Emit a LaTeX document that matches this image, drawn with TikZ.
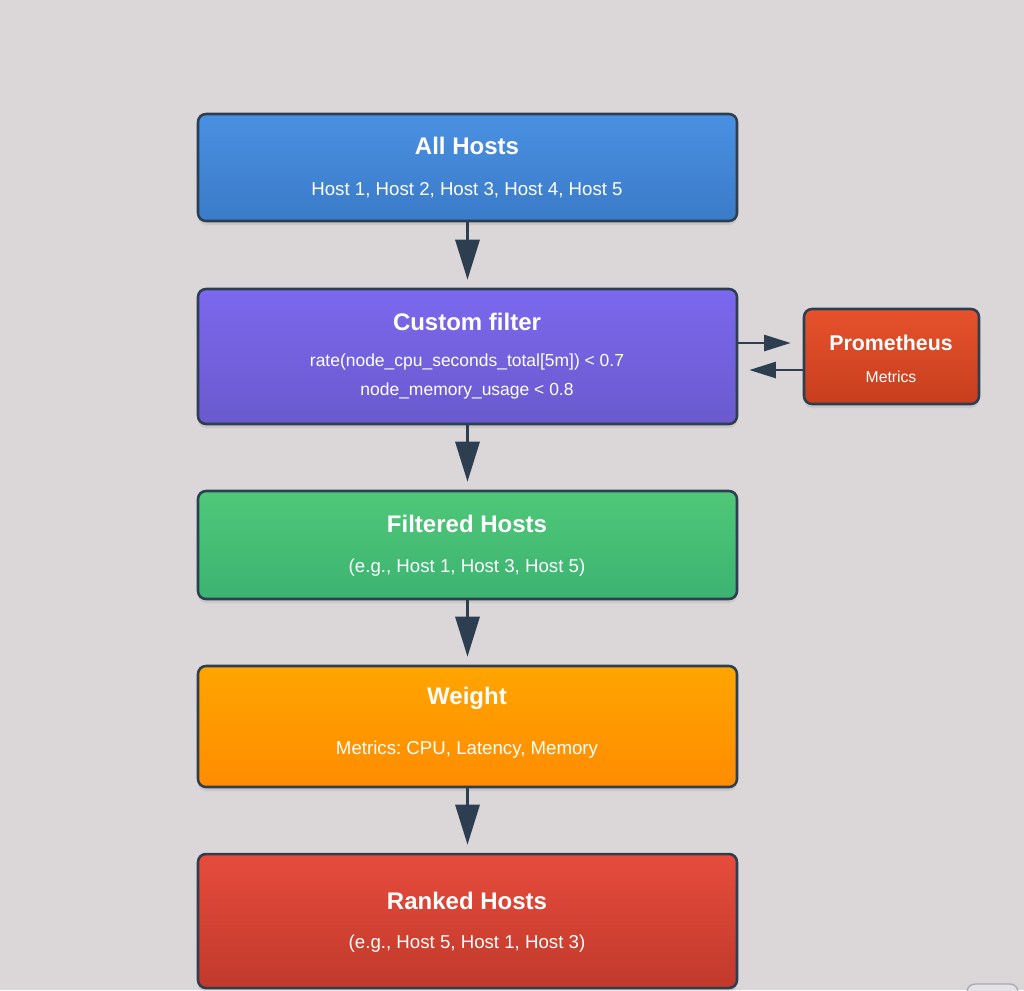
\documentclass[tikz,border=0pt]{standalone}
\usepackage{fontspec}
\setmainfont{Liberation Sans}
\usetikzlibrary{arrows.meta,shadows}
\frenchspacing
\definecolor{bg}{HTML}{DBD7D8}
\definecolor{edge}{HTML}{2C3E50}
\definecolor{blueT}{HTML}{4A90E2}
\definecolor{blueB}{HTML}{3A7BC8}
\definecolor{purT}{HTML}{7B68EE}
\definecolor{purB}{HTML}{6A5ACD}
\definecolor{grnT}{HTML}{50C878}
\definecolor{grnB}{HTML}{3CB371}
\definecolor{orT}{HTML}{FFA500}
\definecolor{orB}{HTML}{FF8C00}
\definecolor{redT}{HTML}{E74C3C}
\definecolor{redB}{HTML}{C0392B}
\definecolor{proT}{HTML}{E6522C}
\definecolor{proB}{HTML}{C73E1D}
\definecolor{tabline}{HTML}{A8A8B4}
\definecolor{tabfill}{HTML}{E4E2E4}
\begin{document}
\begin{tikzpicture}[x=0.75pt,y=-0.75pt,
  box/.style={draw=edge, line width=1.9pt, rounded corners=6pt, inner sep=0pt,
    drop shadow={opacity=0.18, shadow xshift=0pt, shadow yshift=-3pt}},
  mainbox/.style={box, minimum width=404.25pt},
  title/.style={text=white, font=\bfseries\fontsize{18}{21}\selectfont, inner sep=0pt},
  sub/.style={text=white, font=\fontsize{14}{17}\selectfont, inner sep=0pt},
  small/.style={text=white, font=\fontsize{13.1}{16}\selectfont, inner sep=0pt},
  arr/.style={draw=edge, line width=2.3pt, -{Triangle[length=30pt,width=18pt]}, shorten >=6pt},
  harr/.style={draw=edge, line width=2pt, -{Triangle[length=20pt,width=12pt]}}
]
\fill[bg] (0,0) rectangle (1024,990);
\useasboundingbox (0,0) rectangle (1024,990);

% boxes
\node[mainbox, minimum height=80.25pt, top color=blueT, bottom color=blueB] (a) at (467.5,167.5) {};
\node[mainbox, minimum height=101.25pt, top color=purT, bottom color=purB] (b) at (467.5,356.5) {};
\node[mainbox, minimum height=81pt, top color=grnT, bottom color=grnB] (c) at (467.5,545) {};
\node[mainbox, minimum height=90.75pt, top color=orT, bottom color=orB] (d) at (467.5,726.5) {};
\node[mainbox, minimum height=100.5pt, top color=redT, bottom color=redB] (e) at (467.5,921) {};
\node[box, minimum width=131.25pt, minimum height=71.25pt, top color=proT, bottom color=proB] (p) at (891.5,356.5) {};

% texts
\node[title] (aT) at (467,146) {All Hosts};
\node[sub] (aS) at (467,190) {Host 1, Host 2, Host 3, Host 4, Host 5};
\node[title] (bT) at (467,322) {Custom filter};
\node[small] (bS1) at (467,362) {rate(node\_cpu\_seconds\_total[5m]) < 0.7};
\node[small] (bS2) at (467,391) {node\_memory\_usage < 0.8};
\node[title] (cT) at (467,524) {Filtered Hosts};
\node[sub] (cS) at (467,568) {(e.g., Host 1, Host 3, Host 5)};
\node[title] (dT) at (467,698) {Weight};
\node[sub] (dS) at (467,750) {Metrics: CPU, Latency, Memory};
\node[title] (eT) at (467,901) {Ranked Hosts};
\node[sub] (eS) at (467,944) {(e.g., Host 5, Host 1, Host 3)};
\node[title, font=\bfseries\fontsize{16}{19}\selectfont] (pT) at (891,343) {Prometheus};
\node[sub, font=\fontsize{11.8}{14}\selectfont] (pS) at (891,377) {Metrics};

% connectors
\draw[arr] (a.south) -- (b.north);
\draw[arr] (b.south) -- (c.north);
\draw[arr] (c.south) -- (d.north);
\draw[arr] (d.south) -- (e.north);
\draw[harr, shorten >=9pt] ([yshift=10.125pt]b.east) -- ([yshift=10.125pt]p.west);
\draw[harr, shorten >=8.25pt] ([yshift=-10.125pt]p.west) -- ([yshift=-10.125pt]b.east);

% partial tab in the corner
\draw[tabline, fill=tabfill, line width=1pt, rounded corners=6pt] (967,1000) -- (967,984) -- (1018,984) -- (1018,1000);
\end{tikzpicture}
\end{document}
